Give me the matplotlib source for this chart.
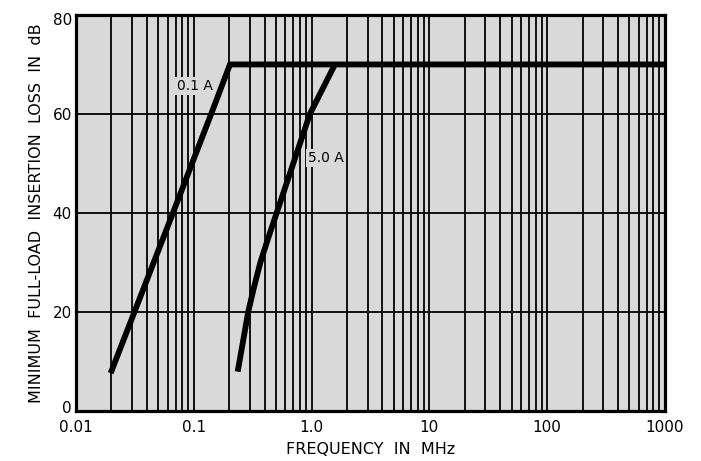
import matplotlib
matplotlib.use("Agg")
import matplotlib.pyplot as plt
from matplotlib.ticker import FixedLocator, NullLocator
from matplotlib.transforms import ScaledTranslation

# Data
freq_01A = [0.0197, 0.0314, 0.0666, 0.1406, 0.203, 1000]
loss_01A = [7.6, 20.0, 40.0, 60.0, 70.0, 70.0]

freq_50A = [0.236, 0.262, 0.290, 0.325, 0.368, 0.430, 0.506, 0.700, 0.969, 1.58]
loss_50A = [7.9, 14.0, 20.0, 25.0, 30.0, 35.0, 40.0, 50.0, 60.0, 70.0]

x_ticks = [0.01, 0.1, 1.0, 10, 100, 1000]
x_ticklabels = ["0.01", "0.1", "1.0", "10", "100", "1000"]
y_ticks = [0, 20, 40, 60, 80]
y_ticklabels = ["0", "20", "40", "60", "80"]
y_grid = [20, 40, 60]

bg = "#d9d9d9"
plt.rcParams['font.family'] = ['DejaVu Sans']

fig = plt.figure(figsize=(7.01, 4.61), dpi=100)
ax = fig.add_axes([0.1084, 0.109, 0.840, 0.8585])
ax.set_facecolor(bg)
ax.set_xscale("log")
ax.set_xlim(0.01, 1000)
ax.set_ylim(0, 80)

# grid: all decade + sub-decade vertical lines, horizontal at 20/40/60
vlines = []
for d in [0.01, 0.1, 1, 10, 100]:
    for k in range(1, 10):
        vlines.append(d * k)
vlines.append(1000)
for v in vlines:
    ax.axvline(v, color="black", lw=1.3, zorder=1)
for h in y_grid:
    ax.axhline(h, color="black", lw=1.3, zorder=1)

ax.plot(freq_01A, loss_01A, color="black", lw=4.2, solid_capstyle="butt",
        solid_joinstyle="miter", zorder=3)
ax.plot(freq_50A, loss_50A, color="black", lw=4.2, solid_capstyle="butt",
        solid_joinstyle="round", zorder=3)

ax.text(0.1033, 65.7, "0.1 A", fontsize=10, ha="center", va="center", zorder=2,
        bbox=dict(facecolor=bg, edgecolor="none", pad=1.5))
ax.text(1.33, 51.1, "5.0 A", fontsize=10, ha="center", va="center", zorder=2,
        bbox=dict(facecolor=bg, edgecolor="none", pad=1.5))

ax.xaxis.set_major_locator(FixedLocator(x_ticks))
ax.xaxis.set_minor_locator(NullLocator())
ax.set_xticks(x_ticks)
ax.set_xticklabels(x_ticklabels)
ax.set_yticks(y_ticks)
ax.set_yticklabels(y_ticklabels)
ax.tick_params(axis="both", length=0, labelsize=11)
ax.tick_params(axis="x", pad=7)
ax.tick_params(axis="y", pad=3)

# nudge the "0" and "80" labels as in the reference
ylabels = ax.get_yticklabels()
ylabels[0].set_transform(ylabels[0].get_transform() + ScaledTranslation(0, 3 / 72, fig.dpi_scale_trans))
ylabels[-1].set_transform(ylabels[-1].get_transform() + ScaledTranslation(0, -3 / 72, fig.dpi_scale_trans))

for s in ax.spines.values():
    s.set_linewidth(2.3)
    s.set_color("black")
    s.set_zorder(4)

ax.set_xlabel("FREQUENCY  IN  MHz", fontsize=11.5, labelpad=5)
ax.set_ylabel("MINIMUM  FULL-LOAD  INSERTION  LOSS  IN  dB", fontsize=11.5, labelpad=6)

fig.savefig("out.png", dpi=100)
